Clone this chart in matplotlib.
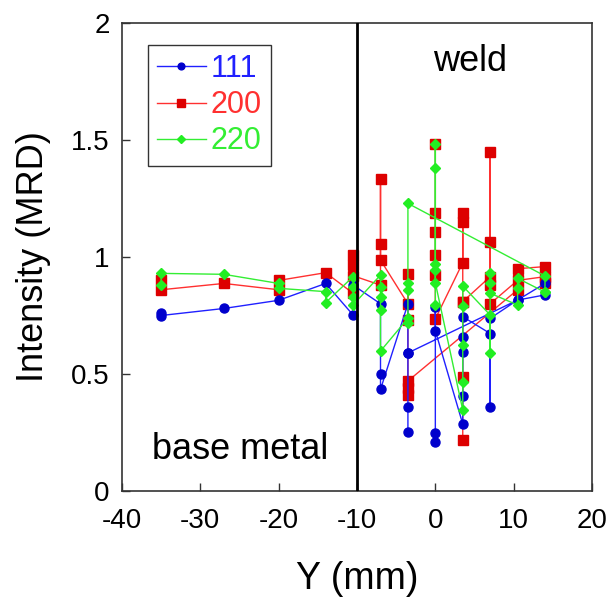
import numpy as np
import matplotlib
matplotlib.use("Agg")
import matplotlib.pyplot as plt

plt.rcParams['font.family'] = ['Liberation Sans', 'DejaVu Sans']

nan = np.nan
# Series 111 (blue) -- polylines separated by NaN
x111 = [-35, -35, -27, -20, -14, -10.5, -10.5, -7, -7, -7, -3.5, -3.5, -3.5, -3.5, nan,
        -3.5, 10.5, 14, nan,
        0, 0, 0, 0, 3.5, 3.5, 3.5, 3.5, 3.5, 7, 7, 7, 10.5, 14]
y111 = [0.76, 0.75, 0.78, 0.815, 0.887, 0.752, 0.88, 0.80, 0.50, 0.434, 0.80, 0.59, 0.36, 0.254, nan,
        0.59, 0.816, 0.887, nan,
        0.21, 0.246, 0.788, 0.685, 0.286, 0.406, 0.595, 0.66, 0.745, 0.673, 0.36, 0.738, 0.816, 0.838]

# Series 200 (red)
x200 = [-35, -35, -27, -20, -20, -14, -10.5, -10.5, -10.5, -10.5, -7, -7, -7, -7, -3.5, -3.5, -3.5, -3.5, -3.5, -3.5, 10.5, 10.5, 14, nan,
        0, 0, 0, 0, 0, 0, 3.5, 3.5, 3.5, 3.5, 3.5, 3.5, nan,
        3.5, 7, 7, 7, 7, 7, 10.5, 14, 14]
y200 = [0.90, 0.86, 0.887, 0.86, 0.90, 0.933, 0.845, 1.01, 0.966, 0.92, 0.88, 1.332, 1.054, 0.987, 0.80, 0.926, 0.731, 0.41, 0.44, 0.47, 0.86, 0.95, 0.959, nan,
        1.483, 1.186, 1.108, 1.009, 0.923, 0.735, 0.976, 1.186, 1.15, 0.809, 0.489, 0.218, nan,
        0.809, 0.916, 1.45, 1.065, 0.88, 0.80, 0.90, 0.916, 0.887]

# Series 220 (green)
x220 = [-35, -35, -27, -20, -20, -14, -14, -10.5, -10.5, -10.5, -10.5, -7, -7, -7, -7, -7, -3.5, -3.5, -3.5, -3.5, -3.5, 14, 14, nan,
        0, 0, 0, 0, 0, 0, 3.5, 3.5, 3.5, 3.5, 3.5, 7, 7, 7, 7, 7, 10.5, 10.5, 10.5, 14]
y220 = [0.88, 0.93, 0.926, 0.887, 0.866, 0.852, 0.805, 0.916, 0.873, 0.83, 0.795, 0.923, 0.873, 0.83, 0.774, 0.598, 0.738, 0.717, 0.859, 0.887, 1.229, 0.919, 0.85, nan,
        0.795, 0.944, 0.969, 1.382, 1.483, 0.89, 0.346, 0.464, 0.624, 0.792, 0.876, 0.752, 0.591, 0.93, 0.887, 0.845, 0.795, 0.866, 0.909, 0.85]

labels = ['111', '200', '220']
xticks = [-40, -30, -20, -10, 0, 10, 20]
yticks = [0, 0.5, 1, 1.5, 2]
ytick_labels = ['0', '0.5', '1', '1.5', '2']

fig = plt.figure(figsize=(6.12, 6.07), dpi=100)
ax = fig.add_axes([122/612, 1-491/607, 470/612, 468/607])

ax.plot(x111, y111, color='#2020ff', lw=1.0, marker='o', ms=6.5, mfc='#0000cc', mec='#0000cc', label=labels[0], zorder=3)
ax.plot(x200, y200, color='#ff3030', lw=1.0, marker='s', ms=7, mfc='#dd0000', mec='#dd0000', label=labels[1], zorder=2)
ax.plot(x220, y220, color='#33ee33', lw=1.0, marker='D', ms=5, mfc='#22ee22', mec='#22ee22', label=labels[2], zorder=4)

ax.axvline(-10, color='black', lw=2, zorder=5)

ax.set_xlim(-40, 20)
ax.set_ylim(0, 2)
ax.set_xticks(xticks)
ax.set_xticklabels([str(t) for t in xticks])
ax.set_yticks(yticks)
ax.set_yticklabels(ytick_labels)
ax.tick_params(direction='in', length=6, width=1, labelsize=20, color='#333333')
ax.tick_params(axis='x', pad=12)
ax.tick_params(axis='y', pad=9)
for s in ax.spines.values():
    s.set_color('#333333')
    s.set_linewidth(1.2)

ax.set_xlabel('Y (mm)', fontsize=27, labelpad=20)
ax.set_ylabel('Intensity (MRD)', fontsize=26, labelpad=14)

ax.text(0.74, 0.917, 'weld', transform=ax.transAxes, fontsize=26, ha='center', va='center')
ax.text(0.251, 0.088, 'base metal', transform=ax.transAxes, fontsize=26, ha='center', va='center')

leg = ax.legend(loc='upper left', bbox_to_anchor=(0.055, 0.953), fontsize=22,
                labelcolor='linecolor', frameon=True, fancybox=False, edgecolor='black',
                handlelength=1.6, handletextpad=0.15, borderpad=0.3, labelspacing=0.2,
                markerscale=0.75, borderaxespad=0)
leg.get_frame().set_linewidth(1.0)

fig.savefig('out.png', dpi=100)
